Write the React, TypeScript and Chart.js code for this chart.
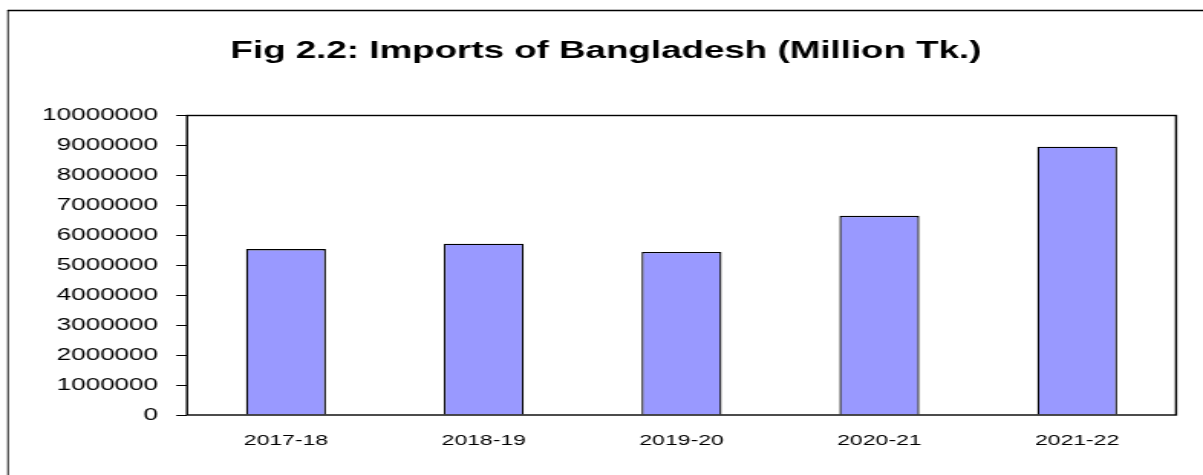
import React, { useEffect, useRef } from "react";
import { Chart, registerables } from "chart.js";

Chart.register(...registerables);

const categories: string[] = ["2017-18", "2018-19", "2019-20", "2020-21", "2021-22"];
const imports: number[] = [5540000, 5720000, 5440000, 6650000, 8960000];
const yTickMin = 0;
const yTickMax = 10000000;
const yTickStep = 1000000;
const titleText = "Fig 2.2: Imports of Bangladesh (Million Tk.)";

const CSS_W = 1203;
const CSS_H = 475;
const SX = 1.5305; // horizontal stretch of the reference picture
const CW = Math.round(CSS_W / SX);
const FONT = "'Liberation Sans', Arial, sans-serif";

const framePlugin = {
  id: "frame",
  beforeDraw(chart: any) {
    const ctx = chart.ctx;
    ctx.save();
    ctx.fillStyle = "#ffffff";
    ctx.fillRect(0, 0, chart.width, chart.height);
    ctx.strokeStyle = "#000000";
    ctx.lineWidth = 1.7;
    ctx.beginPath();
    ctx.moveTo(7.5 / SX, 10.5);
    ctx.lineTo(chart.width, 10.5);
    ctx.stroke();
    ctx.lineWidth = 0.9;
    ctx.beginPath();
    ctx.moveTo(8 / SX, 10);
    ctx.lineTo(8 / SX, chart.height);
    ctx.stroke();
    ctx.restore();
  },
  afterDraw(chart: any) {
    const { left, right, top, bottom } = chart.chartArea;
    const ctx = chart.ctx;
    ctx.save();
    ctx.strokeStyle = "#000000";
    ctx.lineWidth = 1.4;
    ctx.strokeRect(left, top, right - left, bottom - top);
    ctx.restore();
  },
};

export default function App() {
  const ref = useRef<HTMLCanvasElement | null>(null);

  useEffect(() => {
    if (!ref.current) return;
    const chart = new Chart(ref.current, {
      type: "bar",
      data: {
        labels: categories,
        datasets: [
          {
            data: imports,
            backgroundColor: "#9999ff",
            borderColor: "#000000",
            borderWidth: 1.3,
            categoryPercentage: 1,
            barPercentage: 0.404,
          },
        ],
      },
      options: {
        animation: false,
        responsive: false,
        maintainAspectRatio: false,
        devicePixelRatio: 1,
        layout: { padding: { left: 23.4, right: 17.6, top: 0, bottom: 0 } },
        plugins: {
          legend: { display: false },
          tooltip: { enabled: false },
          title: {
            display: true,
            text: titleText,
            color: "#000000",
            font: { family: FONT, size: 24, weight: "bold", lineHeight: 1.2 },
            padding: { top: 36.6, bottom: 50.1 },
          },
        },
        scales: {
          x: {
            grid: { display: false, drawTicks: false },
            border: { display: false },
            ticks: {
              color: "#000000",
              font: { family: FONT, size: 15 },
              padding: 17.3,
              maxRotation: 0,
              autoSkip: false,
            },
            afterFit(scale: any) {
              scale.height = 60;
            },
          },
          y: {
            min: yTickMin,
            max: yTickMax,
            grid: {
              display: true,
              drawOnChartArea: false,
              drawTicks: true,
              tickLength: 7,
              color: "#000000",
              lineWidth: 1,
            },
            border: { display: false },
            ticks: {
              stepSize: yTickStep,
              color: "#000000",
              font: { family: FONT, size: 17 },
              padding: 12,
              callback: (v: any) => String(v),
            },
            afterFit(scale: any) {
              scale.width = 122.2 - 23.4;
            },
          },
        },
      },
      plugins: [framePlugin],
    });
    return () => chart.destroy();
  }, []);

  return (
    <div style={{ position: "absolute", left: 0, top: 0, width: CSS_W, height: CSS_H, overflow: "hidden" }}>
      <canvas
        ref={ref}
        width={CW}
        height={CSS_H}
        style={{ display: "block", width: CSS_W + "px", height: CSS_H + "px" }}
      />
    </div>
  );
}
